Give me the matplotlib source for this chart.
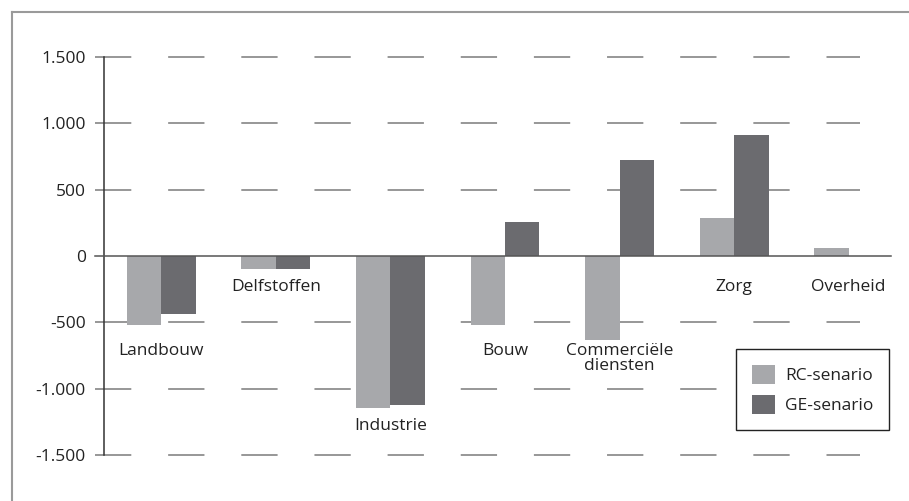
import matplotlib
matplotlib.use("Agg")
import matplotlib.pyplot as plt
from matplotlib.lines import Line2D

plt.rcParams['font.family'] = ['Open Sans', 'DejaVu Sans']

# data
sectors = ['Landbouw', 'Delfstoffen', 'Industrie', 'Bouw',
           'Commerciële\ndiensten', 'Zorg', 'Overheid']
rc_senario = [-520, -95, -1145, -520, -630, 290, 60]
ge_senario = [-435, -95, -1120, 260, 720, 915, 0]
yticks = [-1500, -1000, -500, 0, 500, 1000, 1500]
ytick_labels = ['-1.500', '-1.000', '-500', '0', '500', '1.000', '1.500']
# where the sector names sit (manually placed in the original)
label_y = [-714, -236, -1282, -714, -771, -236, -236]

RC_COLOR = '#a7a8ab'
GE_COLOR = '#6b6b6f'
FS = 12.5
W, H = 909, 501

fig = plt.figure(figsize=(W / 100, H / 100), dpi=100)
ax = fig.add_axes([104 / W, 1 - 455 / H, 802 / W, 398 / H])

# frame around the chart (top and left only, rest is cut off)
fig.add_artist(Line2D([12 / W, 1], [1 - 12 / H, 1 - 12 / H], color='#9a9a9a', lw=1.5))
fig.add_artist(Line2D([12 / W, 12 / W], [0, 1 - 12 / H], color='#9a9a9a', lw=1.5))

x = list(range(len(sectors)))
bw = 0.3
ax.bar([i - bw / 2 for i in x], rc_senario, width=bw, color=RC_COLOR,
       label='RC-senario', zorder=3)
ax.bar([i + bw / 2 for i in x], ge_senario, width=bw, color=GE_COLOR,
       label='GE-senario', zorder=3)

# dashed gridlines, extend a bit left of the axis like tick marks
tr = ax.get_yaxis_transform()
x0 = (95 - 104) / 802
for yv in yticks:
    if yv == 0:
        continue
    ax.plot([x0, (860 - 104) / 802], [yv, yv], transform=tr, clip_on=False,
            color='#7a7a7a', lw=1.1, linestyle=(0, (33 * 0.72, 33.5 * 0.72)),
            zorder=1)
# zero line
ax.plot([x0, (891 - 104) / 802], [0, 0], transform=tr, clip_on=False,
        color='#555555', lw=1.1, zorder=4)

# sector labels
for i, name in enumerate(sectors):
    ax.text(i, label_y[i], name, ha='center', va='center', fontsize=FS,
            color='#222222', linespacing=0.9, zorder=5)

ax.set_xlim(-0.5, 6.5)
ax.set_ylim(-1500, 1500)
ax.set_yticks(yticks)
ax.set_yticklabels(ytick_labels, fontsize=FS, color='#222222')
ax.tick_params(axis='y', length=0, pad=13)
ax.set_xticks([])
for s in ['top', 'right', 'bottom']:
    ax.spines[s].set_visible(False)
ax.spines['left'].set_color('#333333')
ax.spines['left'].set_linewidth(1.1)

leg = ax.legend(loc='upper right', bbox_to_anchor=(889 / W, 1 - 349 / H),
                bbox_transform=fig.transFigure, borderaxespad=0,
                fontsize=FS, handlelength=1.35, handleheight=1.35,
                handletextpad=0.55, labelspacing=0.62, borderpad=0.9,
                fancybox=False, framealpha=1, edgecolor='#222222')
leg.get_frame().set_linewidth(1)
for t in leg.get_texts():
    t.set_color('#222222')

fig.savefig('out.png', dpi=100)
